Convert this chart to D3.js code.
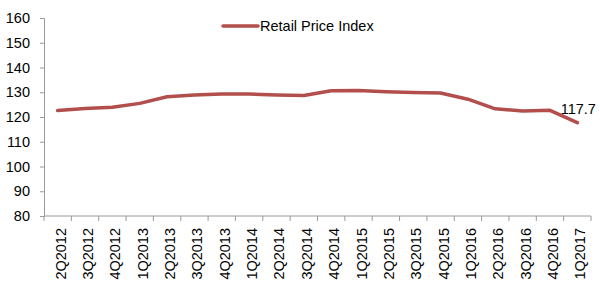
<!DOCTYPE html>
<html>
<head>
<meta charset="utf-8">
<script src="https://cdn.jsdelivr.net/npm/d3@7"></script>
<style>
  body { margin: 0; background: #fff; }
  text { font-family: "Liberation Sans", Arial, sans-serif; fill: #000; }
</style>
</head>
<body>
<div class="chart"></div>
<script>
// Data
var quarters = ["2Q2012", "3Q2012", "4Q2012", "1Q2013", "2Q2013", "3Q2013", "4Q2013",
    "1Q2014", "2Q2014", "3Q2014", "4Q2014", "1Q2015", "2Q2015", "3Q2015", "4Q2015",
    "1Q2016", "2Q2016", "3Q2016", "4Q2016", "1Q2017"];
var rpi = [122.6, 123.4, 123.9, 125.5, 128.2, 128.9, 129.3, 129.3, 128.9, 128.7,
    130.6, 130.7, 130.2, 129.9, 129.7, 127.2, 123.3, 122.4, 122.7, 117.7];
var yTicks = [80, 90, 100, 110, 120, 130, 140, 150, 160];
var seriesName = "Retail Price Index";

var svgWidth = 600, svgHeight = 294;
var margin = { top: 18, right: 9, bottom: 78, left: 44 };
var width = svgWidth - margin.left - margin.right;
var height = svgHeight - margin.top - margin.bottom;
var lineColor = "#b24f4c";
var axisColor = "#9a9a9a";

var svg = d3.select(".chart")
    .append("svg")
    .attr("width", svgWidth)
    .attr("height", svgHeight)
    .append("g")
    .attr("transform", "translate(" + margin.left + "," + margin.top + ")");

var xScale = d3.scaleBand().domain(quarters).range([0, width]);
var yScale = d3.scaleLinear().domain([80, 160]).range([height, 0]);

// y axis
var yAxis = svg.append("g")
    .call(d3.axisLeft(yScale).tickValues(yTicks).tickSize(4).tickPadding(10));
yAxis.select(".domain").attr("stroke", axisColor);
yAxis.selectAll(".tick line").attr("stroke", axisColor);
yAxis.selectAll(".tick text").style("font-size", "14.5px").attr("fill", "#000");

// x axis, ticks at category boundaries
var xAxis = svg.append("g").attr("transform", "translate(0," + height + ")");
xAxis.append("line")
    .attr("x1", 0).attr("x2", width)
    .attr("stroke", axisColor);
xAxis.selectAll(".xtick")
    .data(quarters.concat(["end"]))
    .enter()
    .append("line")
    .attr("x1", function (d, i) { return i * xScale.bandwidth(); })
    .attr("x2", function (d, i) { return i * xScale.bandwidth(); })
    .attr("y1", 0).attr("y2", 5)
    .attr("stroke", axisColor);
xAxis.selectAll(".xlabel")
    .data(quarters)
    .enter()
    .append("text")
    .attr("transform", function (d) {
        var x = xScale(d) + xScale.bandwidth() / 2 + 8;
        return "translate(" + x + ",12) rotate(-90)";
    })
    .attr("text-anchor", "end")
    .style("font-size", "14.5px")
    .text(function (d) { return d; });

// line
var line = d3.line()
    .x(function (d, i) { return xScale(quarters[i]) + xScale.bandwidth() / 2; })
    .y(function (d) { return yScale(d); });

svg.append("path")
    .datum(rpi)
    .attr("fill", "none")
    .attr("stroke", lineColor)
    .attr("stroke-width", 3.5)
    .attr("stroke-linejoin", "round")
    .attr("stroke-linecap", "round")
    .attr("d", line);

// label on last value
var last = rpi.length - 1;
svg.append("text")
    .attr("x", xScale(quarters[last]) + xScale.bandwidth() / 2 + 1)
    .attr("y", yScale(rpi[last]) - 8.5)
    .attr("text-anchor", "middle")
    .style("font-size", "14.5px")
    .text(rpi[last].toFixed(1));

// legend
var legend = svg.append("g").attr("transform", "translate(179,8)");
legend.append("line")
    .attr("x1", 0).attr("x2", 35)
    .attr("stroke", lineColor)
    .attr("stroke-width", 3.5)
    .attr("stroke-linecap", "round");
legend.append("text")
    .attr("x", 37)
    .attr("y", 5)
    .style("font-size", "14.5px")
    .text(seriesName);
</script>
</body>
</html>
